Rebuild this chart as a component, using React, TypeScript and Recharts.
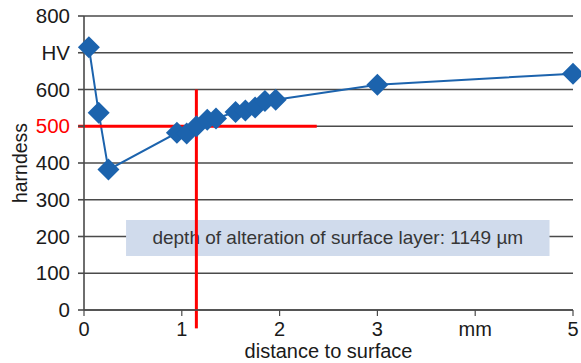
import React from 'react';
import {
  LineChart,
  Line,
  XAxis,
  YAxis,
  CartesianGrid,
  ReferenceLine,
  ReferenceArea,
} from 'recharts';

// distance to surface (mm) and hardness (HV)
const distance = [0.05, 0.15, 0.25, 0.95, 1.05, 1.15, 1.26, 1.35, 1.55, 1.65, 1.75, 1.85, 1.96, 3.0, 5.0];
const hardness = [715, 537, 382, 482, 480, 500, 518, 521, 539, 543, 551, 569, 572, 613, 643];

const xTicks = [0, 1, 2, 3, 4, 5];
const yTicks = [0, 100, 200, 300, 400, 500, 600, 700, 800];

const alterationDepth = 1.149; // mm
const limitHardness = 500;

const BLUE = '#1c63ad';
const RED = '#ff0000';
const GRID = '#4a4a4a';
const FONT = 'Liberation Sans, Arial, sans-serif';

const data = distance.map((d, i) => ({ d, hv: hardness[i] }));

const Diamond = (props: any) => {
  const { cx, cy } = props;
  if (cx == null || cy == null) return null;
  const r = 11;
  return (
    <path
      d={`M${cx},${cy - r} L${cx + r},${cy} L${cx},${cy + r} L${cx - r},${cy} Z`}
      fill={BLUE}
    />
  );
};

const YTick = (props: any) => {
  const { x, y, payload } = props;
  const v = payload.value;
  const label = v === 700 ? 'HV' : String(v);
  return (
    <text
      x={x}
      y={y}
      dy={7}
      textAnchor="end"
      fontSize={20.5}
      fontFamily={FONT}
      fill={v === limitHardness ? RED : '#1a1a1a'}
    >
      {label}
    </text>
  );
};

const XTick = (props: any) => {
  const { x, y, payload } = props;
  const v = payload.value;
  return (
    <text x={x} y={y} dy={18} textAnchor="middle" fontSize={20} fontFamily={FONT} fill="#1a1a1a">
      {v === 4 ? 'mm' : String(v)}
    </text>
  );
};

const BoxLabel = (props: any) => {
  const { viewBox } = props;
  const { x, y, width, height } = viewBox;
  return (
    <text
      x={x + width / 2}
      y={y + height / 2}
      dy={6}
      textAnchor="middle"
      fontSize={19}
      fontFamily={FONT}
      fill="#363636"
    >
      depth of alteration of surface layer: 1149 µm
    </text>
  );
};

export default function App() {
  return (
    <div style={{ position: 'absolute', left: 0, top: 0, width: 581, height: 363, background: '#fff' }}>
      <LineChart
        width={581}
        height={363}
        data={data}
        margin={{ top: 16, right: 8, left: 0, bottom: 0 }}
      >
        <CartesianGrid vertical={false} stroke={GRID} strokeWidth={1.6} />
        <XAxis
          type="number"
          dataKey="d"
          domain={[0, 5]}
          ticks={xTicks}
          height={53}
          axisLine={{ stroke: GRID, strokeWidth: 1.6 }}
          tickLine={{ stroke: GRID, strokeWidth: 1.2 }}
          tickSize={6}
          tick={<XTick />}
          label={{
            value: 'distance to surface',
            position: 'insideBottom',
            offset: 5,
            fontSize: 20,
            fontFamily: FONT,
            fill: '#1a1a1a',
          }}
        />
        <YAxis
          type="number"
          domain={[0, 800]}
          ticks={yTicks}
          width={84}
          axisLine={{ stroke: GRID, strokeWidth: 1.6 }}
          tickLine={{ stroke: GRID, strokeWidth: 1.6 }}
          tickSize={6}
          tickMargin={8}
          tick={<YTick />}
          label={{
            value: 'harndess',
            angle: -90,
            position: 'insideLeft',
            offset: 20,
            fontSize: 19.5,
            fontFamily: FONT,
            fill: '#1a1a1a',
            style: { textAnchor: 'middle' },
          }}
        />
        <Line
          dataKey="hv"
          stroke={BLUE}
          strokeWidth={2}
          dot={<Diamond />}
          activeDot={false}
          isAnimationActive={false}
        />
        <ReferenceLine
          segment={[
            { x: -0.06, y: limitHardness },
            { x: 2.38, y: limitHardness },
          ]}
          stroke={RED}
          strokeWidth={3}
          ifOverflow="visible"
        />
        <ReferenceLine
          segment={[
            { x: alterationDepth, y: 600 },
            { x: alterationDepth, y: -50 },
          ]}
          stroke={RED}
          strokeWidth={3}
          ifOverflow="visible"
        />
        <ReferenceArea
          x1={0.43}
          x2={4.76}
          y1={147}
          y2={245}
          fill="#d0dbec"
          fillOpacity={1}
          stroke="none"
          label={<BoxLabel />}
        />
      </LineChart>
    </div>
  );
}
